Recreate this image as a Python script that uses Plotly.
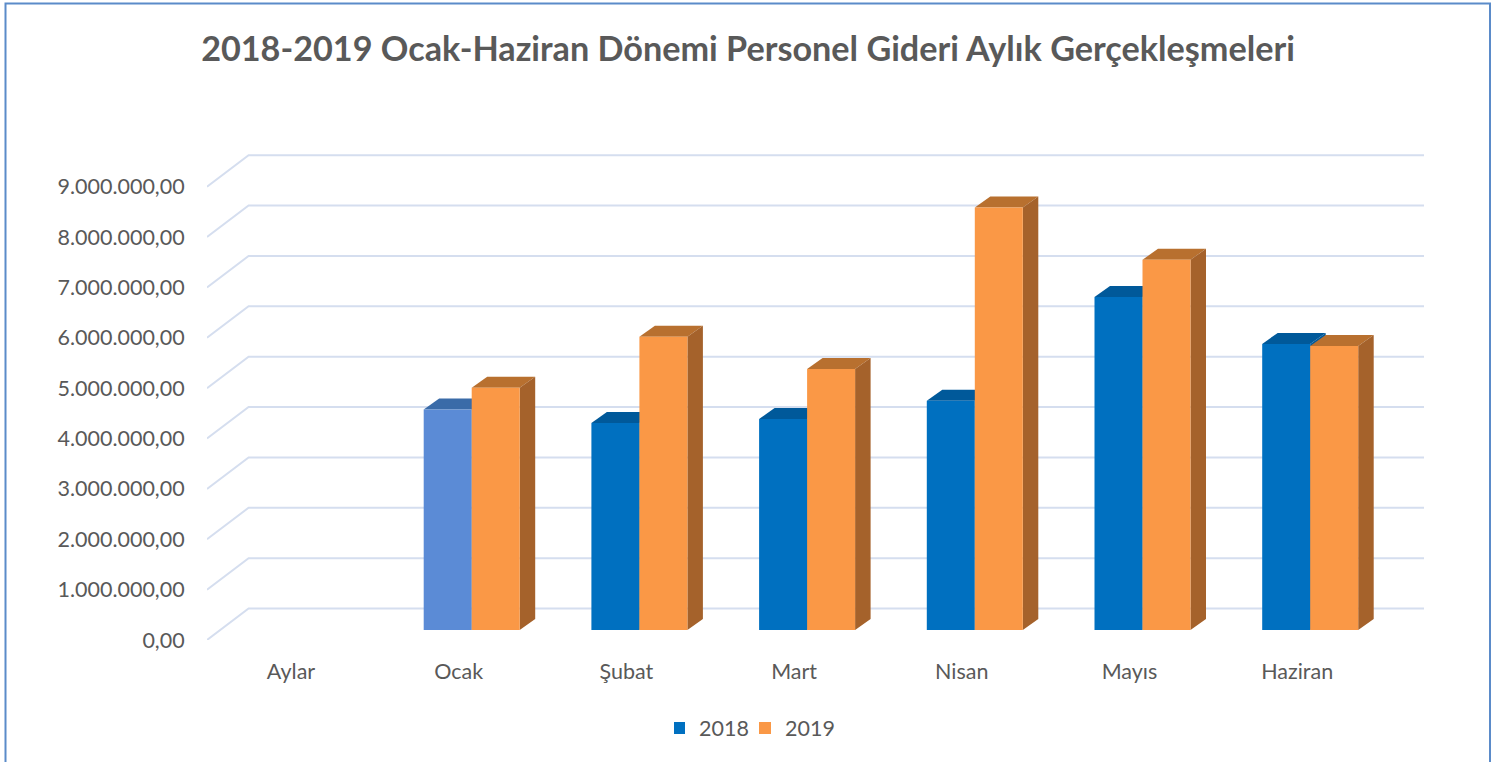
import plotly.graph_objects as go

months = ["Aylar", "Ocak", "Şubat", "Mart", "Nisan", "Mayıs", "Haziran"]
values_2018 = [None, 4380000, 4110000, 4190000, 4550000, 6610000, 5680000]
values_2019 = [None, 4810000, 5820000, 5180000, 8390000, 7350000, 5640000]
y_ticks = [0, 1e6, 2e6, 3e6, 4e6, 5e6, 6e6, 7e6, 8e6, 9e6]
y_labels = ["0,00", "1.000.000,00", "2.000.000,00", "3.000.000,00", "4.000.000,00",
            "5.000.000,00", "6.000.000,00", "7.000.000,00", "8.000.000,00", "9.000.000,00"]

W, H = 1508, 762
L, R, T, B = 207, 1424, 140, 640
PX_X = 167.7          # px per category
PX_Y = 50.37 / 1e6    # px per value unit
X0 = -84 / PX_X
X1 = (R - L - 84) / PX_X
Y1 = (B - T) / PX_Y


def ux(px):
    return px / PX_X


def uy(px):
    return px / PX_Y


WALL_DX, WALL_DY = 41.6, 31.5
BAR_DX, BAR_DY = 13, 10      # front face of bars, measured from the front of the floor
DEPTH_DX, DEPTH_DY = 15.5, 11
BAR_W = 48

fig = go.Figure()

# gridlines: side wall + back wall
gx, gy = [], []
for v in y_ticks:
    gx += [X0, X0 + ux(WALL_DX), X1, None]
    gy += [v, v + uy(WALL_DY), v + uy(WALL_DY), None]
fig.add_trace(go.Scatter(x=gx, y=gy, mode="lines", line=dict(color="#D5DEEF", width=2),
                         hoverinfo="skip", showlegend=False, zorder=0))


def faces(values, side_shift, top_colors, side_color, z):
    sx, sy = [], []
    for i, v in enumerate(values):
        if v is None:
            continue
        xr = i + ux(BAR_DX + side_shift)
        xl = xr - ux(BAR_W)
        y0 = uy(BAR_DY)
        top = v + y0
        ddx, ddy = ux(DEPTH_DX), uy(DEPTH_DY)
        fig.add_trace(go.Scatter(
            x=[xl, xr, xr + ddx, xl + ddx, xl], y=[top, top, top + ddy, top + ddy, top],
            mode="lines", fill="toself", fillcolor=top_colors[i], line=dict(width=0),
            hoverinfo="skip", showlegend=False, zorder=z))
        sx += [xr, xr + ddx, xr + ddx, xr, xr, None]
        sy += [y0, y0 + ddy, top + ddy, top, y0, None]
    fig.add_trace(go.Scatter(x=sx, y=sy, mode="lines", fill="toself", fillcolor=side_color,
                             line=dict(width=0), hoverinfo="skip", showlegend=False, zorder=z))


top18 = ["#00599A", "#3A6BA8", "#00599A", "#00599A", "#00599A", "#00599A", "#00599A"]
top19 = ["#B8702F"] * 7
front18 = ["#0070C0", "#5B8BD6", "#0070C0", "#0070C0", "#0070C0", "#0070C0", "#0070C0"]

faces(values_2018, 0, top18, "#00599A", 1)
fig.add_trace(go.Bar(
    x=[i + ux(BAR_DX - BAR_W / 2) for i in range(7)], y=values_2018,
    base=uy(BAR_DY), width=ux(BAR_W), marker=dict(color=front18, line=dict(width=0)),
    name="2018", zorder=2))
faces(values_2019, BAR_W, top19, "#A5622B", 3)
fig.add_trace(go.Bar(
    x=[i + ux(BAR_DX + BAR_W / 2) for i in range(7)], y=values_2019,
    base=uy(BAR_DY), width=ux(BAR_W), marker=dict(color="#FA9846", line=dict(width=0)),
    name="2019", zorder=4))


# frame of the chart area, drawn in paper units
def px_x(p):
    return (p - L) / (R - L)


def px_y(p):
    return (B - p) / (B - T)


fig.add_shape(type="rect", xref="paper", yref="paper", layer="below",
              x0=px_x(5.5), x1=px_x(1490), y0=px_y(790), y1=px_y(3.5),
              line=dict(color="#5B8BC9", width=2), fillcolor="white")

FONT = "Lato, Carlito, Calibri, sans-serif"
fig.update_layout(
    width=W, height=H, autosize=False,
    margin=dict(l=L, r=W - R, t=T, b=H - B, pad=0),
    paper_bgcolor="white", plot_bgcolor="rgba(0,0,0,0)",
    barmode="overlay",
    font=dict(family=FONT, size=21.5, color="#595959"),
    title=dict(text="<b>2018-2019 Ocak-Haziran Dönemi Personel Gideri Aylık Gerçekleşmeleri</b>",
               x=748 / W, xanchor="center", y=1 - 49 / H, yanchor="middle",
               font=dict(family=FONT, size=34.2, color="#595959")),
    xaxis=dict(range=[X0, X1], tickmode="array", tickvals=list(range(7)), ticktext=months,
               showgrid=False, zeroline=False, showline=False,
               ticks="outside", ticklen=12, tickcolor="rgba(0,0,0,0)", fixedrange=True),
    yaxis=dict(range=[0, Y1], tickmode="array", tickvals=y_ticks, ticktext=y_labels,
               showgrid=False, zeroline=False, showline=False,
               ticks="outside", ticklen=17, tickcolor="rgba(0,0,0,0)", fixedrange=True),
    legend=dict(orientation="h", x=760 / W, xref="container", xanchor="center",
                y=1 - 728 / H, yref="container", yanchor="middle", indentation=-15,
                entrywidth=56, entrywidthmode="pixels",
                bgcolor="rgba(0,0,0,0)", font=dict(size=21.5, color="#595959"),
                traceorder="normal"),
    showlegend=True,
)

fig.write_html("out.html", config={"displayModeBar": False},
               post_script="document.body.style.margin='0';document.body.style.overflow='hidden';")
